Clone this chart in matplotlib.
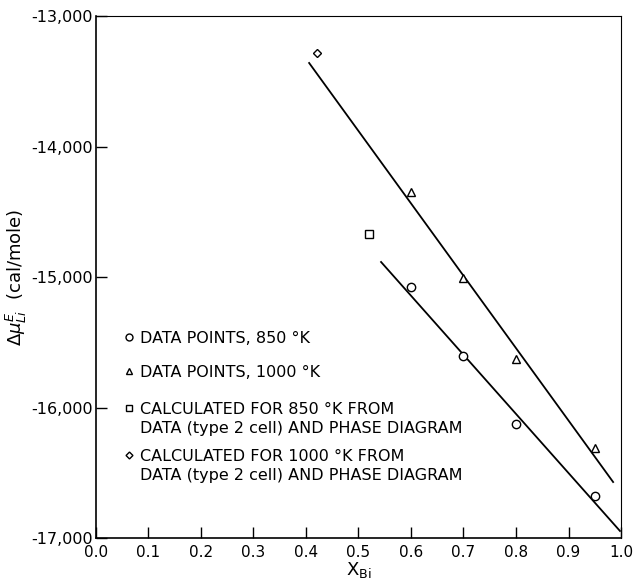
import matplotlib.pyplot as plt
from matplotlib.ticker import FuncFormatter, MultipleLocator

plt.rcParams['font.family'] = ['DejaVu Sans']

# data points
x_850 = [0.6, 0.7, 0.8, 0.95]
y_850 = [-15077, -15605, -16126, -16678]
x_1000 = [0.6, 0.7, 0.8, 0.95]
y_1000 = [-14349, -15008, -15628, -16310]
x_calc_850 = [0.52]
y_calc_850 = [-14670]
x_calc_1000 = [0.421]
y_calc_1000 = [-13284]

# fitted lines (end points)
fit_850_x = [0.543, 0.998]
fit_850_y = [-14885, -16946]
fit_1000_x = [0.406, 0.985]
fit_1000_y = [-13360, -16571]

legend_markers = ['o', '^', 's', 'D']
legend_labels = [
    ['DATA POINTS, 850 °K'],
    ['DATA POINTS, 1000 °K'],
    ['CALCULATED FOR 850 °K FROM', 'DATA (type 2 cell) AND PHASE DIAGRAM'],
    ['CALCULATED FOR 1000 °K FROM', 'DATA (type 2 cell) AND PHASE DIAGRAM'],
]

fig = plt.figure(figsize=(6.34, 5.86), dpi=100)
ax = fig.add_axes([0.1514, 0.0819, 0.8281, 0.8908])

mk = dict(linestyle='none', markerfacecolor='white', markeredgecolor='black',
          markeredgewidth=1.0, color='black')
ax.plot(fit_850_x, fit_850_y, color='black', linewidth=1.3)
ax.plot(fit_1000_x, fit_1000_y, color='black', linewidth=1.3)
ax.plot(x_850, y_850, marker='o', markersize=6, **mk)
ax.plot(x_1000, y_1000, marker='^', markersize=6, **mk)
ax.plot(x_calc_850, y_calc_850, marker='s', markersize=5.5, **mk)
ax.plot(x_calc_1000, y_calc_1000, marker='D', markersize=4, **mk)

# hand-drawn style legend inside the axes
row_y = [0.385, 0.320, 0.249, 0.159]
line_gap = 0.036
for m, lines, yy in zip(legend_markers, legend_labels, row_y):
    ms = {'o': 5, '^': 5, 's': 4.5, 'D': 3.5}[m]
    ax.plot([0.063], [yy], marker=m, markersize=ms, transform=ax.transAxes,
            clip_on=False, **mk)
    for i, txt in enumerate(lines):
        ax.text(0.084, yy - i * line_gap, txt, transform=ax.transAxes,
                fontsize=11.5, va='center_baseline', ha='left')

ax.set_xlim(0.0, 1.0)
ax.set_ylim(-17000, -13000)
ax.xaxis.set_major_locator(MultipleLocator(0.1))
ax.yaxis.set_major_locator(MultipleLocator(1000))
ax.xaxis.set_major_formatter(FuncFormatter(lambda v, p: f'{v:.1f}'))
ax.yaxis.set_major_formatter(FuncFormatter(lambda v, p: f'{v:,.0f}'))
ax.tick_params(direction='in', length=8, width=1, labelsize=11, pad=5)
ax.tick_params(axis='y', right=False, pad=2, labelsize=11.5)

for s in ['left', 'bottom']:
    ax.spines[s].set_linewidth(1.2)
for s in ['top', 'right']:
    ax.spines[s].set_linewidth(0.8)

ax.set_xlabel(r'X$_{\mathrm{Bi}}$', fontsize=13, labelpad=0)
ax.set_ylabel(r'$\Delta\mu^{E}_{Li}$  (cal/mole)', fontsize=13, labelpad=2)

plt.savefig('out.png', dpi=100)
